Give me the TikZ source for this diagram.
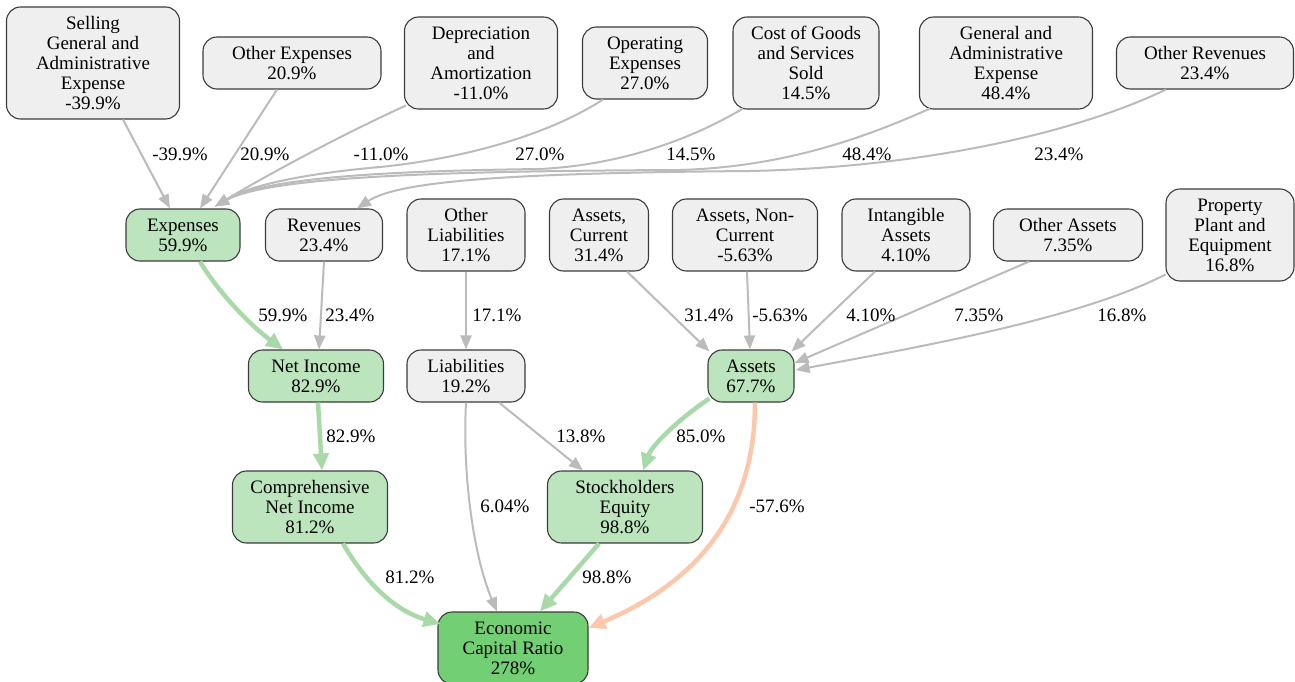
\documentclass[tikz,border=0pt]{standalone}
\usepackage{fontspec}
\setmainfont{Liberation Serif}
\newfontfamily\dfont{Liberation Serif}
\usetikzlibrary{arrows.meta,calc}
\definecolor{boxgray}{HTML}{EFEFEF}
\definecolor{boxline}{HTML}{3C3C3C}
\definecolor{lgreen}{HTML}{BDE5BD}
\definecolor{dgreen}{HTML}{73CF73}
\definecolor{egray}{HTML}{BBBBBB}
\definecolor{egreen}{HTML}{A9D8A9}
\definecolor{eorange}{HTML}{FDC7AC}
\begin{document}
\begin{tikzpicture}[x=1pt,y=-1pt,
  every node/.style={font=\dfont\fontsize{19}{20}\selectfont},
  box/.style={draw=boxline, line width=1.1pt, rounded corners=14pt, fill=boxgray, align=center, inner sep=0pt},
  gbox/.style={box, fill=lgreen},
  dbox/.style={box, fill=dgreen},
  lab/.style={inner sep=0pt},
  gedge/.style={draw=egray, line width=2pt, -{Triangle[length=14pt,width=11pt]}},
  tedge/.style={draw=egreen, line width=4.5pt, -{Triangle[length=17pt,width=15pt]}},
  oedge/.style={draw=eorange, line width=4.5pt, -{Triangle[length=17pt,width=15pt]}},
]
\useasboundingbox (0,0) rectangle (1295,682);
% top row
\node[box, minimum width=173pt, minimum height=112pt] (sga) at (93,63) {Selling\\General and\\Administrative\\Expense\\-39.9\%};
\node[box, minimum width=178pt, minimum height=52pt] (oexp) at (292,63) {Other Expenses\\20.9\%};
\node[box, minimum width=153pt, minimum height=92pt] (dep) at (481,63) {Depreciation\\and\\Amortization\\-11.0\%};
\node[box, minimum width=125pt, minimum height=72pt] (opex) at (645,63) {Operating\\Expenses\\27.0\%};
\node[box, minimum width=146pt, minimum height=92pt] (cogs) at (806,63) {Cost of Goods\\and Services\\Sold\\14.5\%};
\node[box, minimum width=173pt, minimum height=92pt] (ga) at (1006,63) {General and\\Administrative\\Expense\\48.4\%};
\node[box, minimum width=177pt, minimum height=52pt] (orev) at (1205,63) {Other Revenues\\23.4\%};
% second row
\node[gbox, minimum width=114pt, minimum height=52pt] (exp) at (183,235) {Expenses\\59.9\%};
\node[box, minimum width=117pt, minimum height=52pt] (rev) at (324,235) {Revenues\\23.4\%};
\node[box, minimum width=118pt, minimum height=72pt] (oliab) at (466,235) {Other\\Liabilities\\17.1\%};
\node[box, minimum width=99pt, minimum height=72pt] (acur) at (599,235) {Assets,\\Current\\31.4\%};
\node[box, minimum width=145pt, minimum height=72pt] (anc) at (745,235) {Assets, Non-\\Current\\-5.63\%};
\node[box, minimum width=128pt, minimum height=72pt] (intang) at (906,235) {Intangible\\Assets\\4.10\%};
\node[box, minimum width=149pt, minimum height=52pt] (oassets) at (1068,235) {Other Assets\\7.35\%};
\node[box, minimum width=128pt, minimum height=92pt] (ppe) at (1230,235) {Property\\Plant and\\Equipment\\16.8\%};
% third row
\node[gbox, minimum width=135pt, minimum height=52pt] (ni) at (316,376) {Net Income\\82.9\%};
\node[box, minimum width=118pt, minimum height=52pt] (liab) at (466,376) {Liabilities\\19.2\%};
\node[gbox, minimum width=86pt, minimum height=52pt] (assets) at (751,376) {Assets\\67.7\%};
% fourth row
\node[gbox, minimum width=155pt, minimum height=72pt] (cni) at (310,507) {Comprehensive\\Net Income\\81.2\%};
\node[gbox, minimum width=155pt, minimum height=72pt] (se) at (625,507) {Stockholders\\Equity\\98.8\%};
% bottom
\node[dbox, minimum width=150pt, minimum height=72pt] (ecr) at (513,648) {Economic\\Capital Ratio\\278\%};

% edges into Expenses / Revenues
\draw[gedge] ($(sga.south)+(30,0)$) -- ($(exp.north)+(-13,0)$);
\draw[gedge] ($(oexp.south)+(-15,0)$) -- ($(exp.north)+(17,0)$);
\draw[gedge] ($(dep.south west)+(2,-4)$) .. controls (330,140) and (250,185) .. ($(exp.north)+(32,-2)$);
\draw[gedge] ($(opex.south)+(-42,0)$) .. controls (540,140) and (450,160) .. (380,167) .. controls (290,175) and (245,188) .. ($(exp.north)+(32,-2)$);
\draw[gedge] ($(cogs.south)+(-63,-1)$) .. controls (690,140) and (620,165) .. (540,169) .. controls (380,171) and (265,178) .. ($(exp.north)+(32,-2)$);
\draw[gedge] ($(ga.south)+(-76,-1)$) .. controls (860,140) and (780,167) .. (680,170) .. controls (450,171) and (270,176) .. ($(exp.north)+(32,-2)$);
\draw[gedge] ($(orev.south)+(-39,0)$) .. controls (1060,140) and (900,168) .. (750,171) .. controls (520,173) and (400,180) .. ($(rev.north)+(33,0)$);
% second to third row
\draw[tedge] ($(exp.south)+(17,0)$) .. controls (218,292) and (250,325) .. ($(ni.north)+(-33,0)$);
\draw[gedge] (rev.south) -- ($(ni.north)+(3,0)$);
\draw[gedge] (oliab.south) -- (liab.north);
\draw[gedge] ($(acur.south)+(28,0)$) -- ($(assets.north west)+(2,2)$);
\draw[gedge] ($(anc.south)+(2,0)$) -- ($(assets.north)+(-1,0)$);
\draw[gedge] ($(intang.south)+(-31,0)$) -- ($(assets.north east)+(-3,2)$);
\draw[gedge] ($(oassets.south)+(-39,0)$) -- ($(assets.east)+(0,-13)$);
\draw[gedge] ($(ppe.south west)+(0,-7)$) .. controls (1080,318) and (930,345) .. ($(assets.east)+(1,-6)$);
% lower edges
\draw[tedge] ($(ni.south)+(2,0)$) -- ($(cni.north)+(12,0)$);
\draw[gedge] (liab.south) .. controls (462,480) and (475,560) .. ($(ecr.north)+(-16,0)$);
\draw[gedge] ($(liab.south)+(33,0)$) -- ($(se.north)+(-42,0)$);
\draw[tedge] ($(assets.south west)+(2,-4)$) .. controls (680,418) and (652,445) .. ($(se.north)+(18,0)$);
\draw[oedge] ($(assets.south)+(4,0)$) .. controls (755,520) and (690,585) .. ($(ecr.east)+(0,-20)$);
\draw[tedge] ($(cni.south)+(33,0)$) .. controls (370,590) and (400,612) .. ($(ecr.west)+(3,-24)$);
\draw[tedge] ($(se.south)+(-26,0)$) -- ($(ecr.north)+(27,0)$);

% edge labels
\node[lab] (l1) at (180,154) {-39.9\%};
\node[lab] (l2) at (265,154) {20.9\%};
\node[lab] (l3) at (381,154) {-11.0\%};
\node[lab] (l4) at (540,154) {27.0\%};
\node[lab] (l5) at (691,154) {14.5\%};
\node[lab] (l6) at (867,154) {48.4\%};
\node[lab] (l7) at (1059,154) {23.4\%};
\node[lab] (l8) at (283,315) {59.9\%};
\node[lab] (l9) at (350,315) {23.4\%};
\node[lab] (l10) at (497,315) {17.1\%};
\node[lab] (l11) at (709,315) {31.4\%};
\node[lab] (l12) at (780,315) {-5.63\%};
\node[lab] (l13) at (871,315) {4.10\%};
\node[lab] (l14) at (979,315) {7.35\%};
\node[lab] (l15) at (1122,315) {16.8\%};
\node[lab] (l16) at (351,436) {82.9\%};
\node[lab] (l17) at (581,436) {13.8\%};
\node[lab] (l18) at (701,436) {85.0\%};
\node[lab] (l19) at (505,506) {6.04\%};
\node[lab] (l20) at (777,506) {-57.6\%};
\node[lab] (l21) at (410,577) {81.2\%};
\node[lab] (l22) at (607,577) {98.8\%};
\end{tikzpicture}
\end{document}
